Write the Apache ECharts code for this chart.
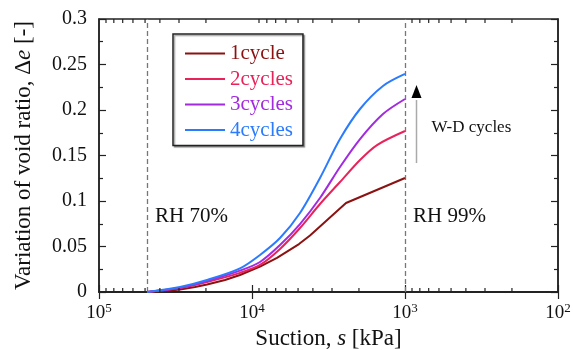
<!DOCTYPE html>
<html>
<head>
<meta charset="utf-8">
<script src="https://cdn.jsdelivr.net/npm/echarts@6/dist/echarts.min.js"></script>
<style>
html,body{margin:0;padding:0;background:#fff;}
#chart{width:573px;height:350px;}
</style>
</head>
<body>
<div id="chart"></div>
<script>
// ---- data (suction s in kPa, variation of void ratio Δe) ----
const seriesNames = ['1cycle', '2cycles', '3cycles', '4cycles'];
const suction1 = [48500, 37030, 29550, 23580, 19680, 15020, 11980, 8866, 6866, 4930, 4177, 2430, 1000];
const dv1      = [0, 0.0011, 0.0027, 0.0055, 0.0082, 0.0132, 0.0187, 0.028, 0.0374, 0.0527, 0.0621, 0.0978, 0.1253];
const suction2 = [48500, 29550, 19680, 11980, 8866, 6561, 4857, 3594, 2660, 1968, 1524, 1000];
const dv2      = [0, 0.0044, 0.011, 0.021, 0.0297, 0.0473, 0.0703, 0.0967, 0.1209, 0.1451, 0.1615, 0.1769];
const suction3 = [48500, 29550, 19680, 11980, 8866, 6561, 4857, 3594, 2660, 1968, 1393, 1000];
const dv3      = [0, 0.0046, 0.0121, 0.0235, 0.033, 0.0516, 0.0747, 0.1033, 0.1374, 0.1681, 0.1956, 0.2121];
const suction4 = [48500, 29550, 19680, 11980, 8866, 6561, 4857, 3594, 2660, 1968, 1393, 1000];
const dv4      = [0, 0.0055, 0.0132, 0.026, 0.0407, 0.0593, 0.0868, 0.1253, 0.1681, 0.2011, 0.2264, 0.2396];
const rhSuction = [48500, 1000];
const rhLabels = ['RH 70%', 'RH 99%'];
const xMin = 100, xMax = 100000;
const yMin = 0, yMax = 0.3, yStep = 0.05;

const colors = ['#8B1212', '#E8235A', '#A22BE0', '#2B7BFF'];
const smoothing = [false, 0.3, 0.3, 0.3];
const FONT = 'Liberation Serif';

function pairs(xs, ys) { return xs.map((x, i) => [x, ys[i]]); }
const allData = [pairs(suction1, dv1), pairs(suction2, dv2), pairs(suction3, dv3), pairs(suction4, dv4)];

const chart = echarts.init(document.getElementById('chart'), null, {renderer: 'canvas'});

const xAxisCommon = {
  type: 'log', logBase: 10, min: xMin, max: xMax, inverse: true,
  axisLine: {show: true, lineStyle: {color: '#222', width: 1.5}},
  axisTick: {show: true, inside: true, length: 7, lineStyle: {color: '#222', width: 1.2}},
  splitLine: {show: false}
};
const yAxisCommon = {
  type: 'value', min: yMin, max: yMax, interval: yStep,
  axisLine: {show: true, lineStyle: {color: '#222', width: 1.5}},
  axisTick: {show: true, inside: true, length: 7, lineStyle: {color: '#222', width: 1.2}},
  minorTick: {show: true, splitNumber: 2, length: 4, lineStyle: {color: '#222', width: 1.2}},
  splitLine: {show: false}
};

const series = seriesNames.map((n, i) => ({
  name: n, type: 'line', data: allData[i], showSymbol: false, symbol: 'none',
  smooth: smoothing[i], lineStyle: {color: colors[i], width: 2}, itemStyle: {color: colors[i]},
  z: 5 + i
}));
series[0].markLine = {
  silent: true, symbol: 'none', label: {show: false},
  lineStyle: {color: '#777', type: [5, 3], width: 1.3},
  data: rhSuction.map(v => ({xAxis: v}))
};

chart.setOption({
  animation: false,
  textStyle: {fontFamily: FONT},
  grid: {left: 99, right: 15, top: 19, bottom: 58, show: true, borderColor: '#222', borderWidth: 1.5,
         containLabel: false, outerBoundsMode: 'none'},
  legend: {
    orient: 'vertical', left: 173, top: 34,
    padding: [9, 10, 5, 12], itemGap: 4.5,
    itemWidth: 40, itemHeight: 2, icon: 'rect',
    borderColor: '#222', borderWidth: 1.5, backgroundColor: '#fff',
    shadowColor: 'rgba(0,0,0,0.35)', shadowOffsetX: 1.5, shadowOffsetY: 1.5, shadowBlur: 1,
    textStyle: {fontFamily: FONT, fontSize: 21},
    data: seriesNames.map((n, i) => ({name: n, textStyle: {color: colors[i], fontFamily: FONT, fontSize: 21}}))
  },
  xAxis: [
    Object.assign({}, xAxisCommon, {
      position: 'bottom',
      name: 'Suction, {i|s} [kPa]', nameLocation: 'middle', nameGap: 31,
      nameTextStyle: {fontFamily: FONT, fontSize: 23, color: '#111',
        rich: {i: {fontFamily: FONT, fontSize: 23, fontStyle: 'italic', color: '#111'}}},
      axisLabel: {
        margin: 10, color: '#111',
        formatter: v => '{b|10}{s|' + Math.round(Math.log10(v)) + '}',
        rich: {
          b: {fontFamily: FONT, fontSize: 19, color: '#111'},
          s: {fontFamily: FONT, fontSize: 13, color: '#111', verticalAlign: 'top', padding: [0, 0, 9, 0]}
        }
      }
    }),
    Object.assign({}, xAxisCommon, {position: 'top', axisLabel: {show: false}})
  ],
  yAxis: [
    Object.assign({}, yAxisCommon, {
      position: 'left',
      name: 'Variation of void ratio, Δ{i|e} [-]', nameLocation: 'middle', nameGap: 64,
      nameTextStyle: {fontFamily: FONT, fontSize: 23, color: '#111',
        rich: {i: {fontFamily: FONT, fontSize: 23, fontStyle: 'italic', color: '#111'}}},
      axisLabel: {margin: 12, color: '#111', fontFamily: FONT, fontSize: 20, padding: [0, 0, 8, 0]}
    }),
    Object.assign({}, yAxisCommon, {position: 'right', axisLabel: {show: false}})
  ],
  series: series
});

// minor log ticks, RH labels, W-D arrow
function addGraphics() {
  const g = [];
  const yb = chart.convertToPixel({yAxisIndex: 0}, yMin);
  const yt = chart.convertToPixel({yAxisIndex: 0}, yMax);
  for (let k = 2; k <= 4; k++) {
    for (let m = 2; m <= 9; m++) {
      const px = chart.convertToPixel({xAxisIndex: 0}, m * Math.pow(10, k));
      g.push({type: 'line', shape: {x1: px, y1: yb, x2: px, y2: yb - 4}, style: {stroke: '#222', lineWidth: 1.2}, z: 10});
      g.push({type: 'line', shape: {x1: px, y1: yt, x2: px, y2: yt + 4}, style: {stroke: '#222', lineWidth: 1.2}, z: 10});
    }
  }
  const labY = chart.convertToPixel({yAxisIndex: 0}, 0.083);
  rhSuction.forEach((s, i) => {
    const px = chart.convertToPixel({xAxisIndex: 0}, s);
    g.push({type: 'text', x: px + 8, y: labY, style: {text: rhLabels[i], font: '21px "Liberation Serif"', fill: '#111', verticalAlign: 'middle', align: 'left'}, z: 10});
  });
  const ax = chart.convertToPixel({xAxisIndex: 0}, rhSuction[1]) + 11.5;
  const yA0 = chart.convertToPixel({yAxisIndex: 0}, 0.1417);
  const yA1 = chart.convertToPixel({yAxisIndex: 0}, 0.2132);
  const yTip = chart.convertToPixel({yAxisIndex: 0}, 0.2275);
  g.push({type: 'line', shape: {x1: ax, y1: yA0, x2: ax, y2: yA1 + 2}, style: {stroke: '#aaa', lineWidth: 1.5}, z: 10});
  g.push({type: 'polygon', shape: {points: [[ax, yTip], [ax - 5, yA1], [ax + 5, yA1]]}, style: {fill: '#000'}, z: 10});
  g.push({type: 'text', x: ax + 15, y: chart.convertToPixel({yAxisIndex: 0}, 0.181), style: {text: 'W-D cycles', font: '17px "Liberation Serif"', fill: '#111', verticalAlign: 'middle', align: 'left'}, z: 10});
  chart.setOption({graphic: g});
}
addGraphics();
</script>
</body>
</html>
